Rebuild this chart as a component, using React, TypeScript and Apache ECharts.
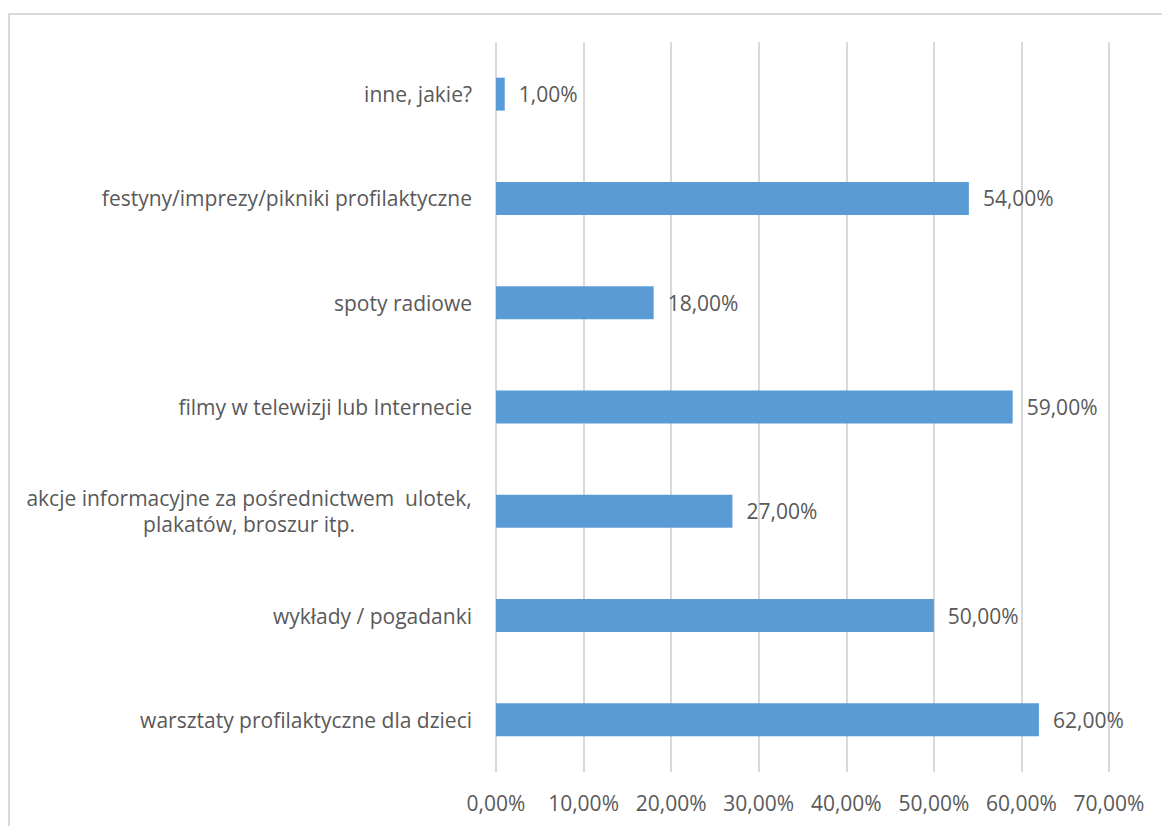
import React, { useEffect, useRef } from "react";
import * as echarts from "echarts";

const categories = [
  "warsztaty profilaktyczne dla dzieci",
  "wykłady / pogadanki",
  "akcje informacyjne za pośrednictwem  ulotek,\nplakatów, broszur itp.",
  "filmy w telewizji lub Internecie",
  "spoty radiowe",
  "festyny/imprezy/pikniki profilaktyczne",
  "inne, jakie?",
];
const values = [62, 50, 27, 59, 18, 54, 1];

const fmt = (v: number) => v.toFixed(2).replace(".", ",") + "%";

export default function App() {
  const ref = useRef<HTMLDivElement>(null);
  useEffect(() => {
    if (!ref.current) return;
    const chart = echarts.init(ref.current, null, { renderer: "svg" });
    const font = "'Open Sans', sans-serif";
    const fsCat = 21;
    const fsNum = 21;
    chart.setOption({
      animation: false,
      backgroundColor: "#ffffff",
      graphic: [
        {
          type: "rect",
          shape: { x: 9, y: 14, width: 1160, height: 900 },
          style: { fill: "none", stroke: "#d9d9d9", lineWidth: 2 },
          silent: true,
        },
      ],
      grid: { left: 496, right: 53, top: 42, bottom: 54, containLabel: false },
      xAxis: {
        type: "value",
        min: 0,
        max: 70,
        interval: 10,
        axisLine: { show: false },
        axisTick: { show: false },
        splitLine: { show: true, lineStyle: { color: "#d9d9d9", width: 2 } },
        axisLabel: {
          formatter: (v: number) => fmt(v),
          color: "#595959",
          fontSize: fsNum,
          fontFamily: font,
          margin: 20,
        },
      },
      yAxis: {
        type: "category",
        data: categories,
        axisLine: { show: false },
        axisTick: { show: false },
        axisLabel: {
          color: "#595959",
          fontSize: fsCat,
          fontFamily: font,
          margin: 24,
          lineHeight: 26,
          formatter: (v: string) => {
            if (v.indexOf("\n") >= 0) {
              return v
                .split("\n")
                .map((l) => "{c|" + l + "}")
                .join("\n");
            }
            return v;
          },
          rich: {
            c: {
              width: 446,
              align: "center",
              color: "#595959",
              fontSize: fsCat,
              fontFamily: font,
              lineHeight: 26,
            },
          },
        },
      },
      series: [
        {
          type: "bar",
          data: values,
          barWidth: 33,
          itemStyle: { color: "#5b9bd5" },
          label: {
            show: true,
            position: "right",
            distance: 14,
            formatter: (p: any) => fmt(p.value),
            color: "#595959",
            fontSize: fsNum,
            fontFamily: font,
          },
        },
      ],
    });
    return () => chart.dispose();
  }, []);
  return (
    <div
      ref={ref}
      style={{ position: "fixed", left: 0, top: 0, width: 1162, height: 826 }}
    />
  );
}
